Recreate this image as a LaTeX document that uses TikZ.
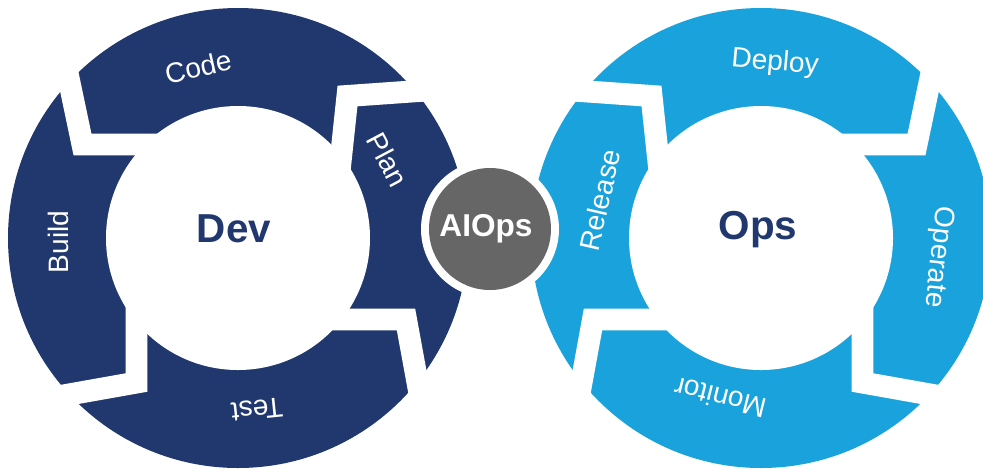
\documentclass[tikz,border=0pt]{standalone}
\usepackage{fontspec}
\setmainfont{Liberation Sans}
\definecolor{devblue}{HTML}{21386E}
\definecolor{opsblue}{HTML}{19A2DB}
\definecolor{aigray}{HTML}{666666}

\begin{document}
\begin{tikzpicture}[x=0.02cm, y=0.02cm,
        cut/.style={draw=white, line width=12.5pt, line join=miter},
        lbl/.style={text=white, font=\fontsize{16}{19}\selectfont},
        hub/.style={text=devblue, font=\fontsize{23}{28}\selectfont\bfseries}]%
        \useasboundingbox (-238,-230) rectangle (745,238);
        % Dev ring
        \fill[devblue] (0,0) circle (230);
        \draw[cut] (-176,191) -- (-155.5,93.5) -- (-60,93.5);
        \draw[cut] (209,149) -- (109.5,142) -- (101,62);
        \draw[cut] (186,-180) -- (168,-81.5) -- (68,-81.5);
        \draw[cut] (-200,-162) -- (-101.5,-144.5) -- (-101.5,-60);
        \fill[white] (0,0) circle (132);
        % Ops ring (mirror of Dev ring)
        \begin{scope}[shift={(523,0)}, xscale=-1]
        \fill[opsblue] (0,0) circle (230);
        \draw[cut] (-176,191) -- (-155.5,93.5) -- (-60,93.5);
        \draw[cut] (209,149) -- (109.5,142) -- (101,62);
        \draw[cut] (186,-180) -- (168,-81.5) -- (68,-81.5);
        \draw[cut] (-200,-162) -- (-101.5,-144.5) -- (-101.5,-60);
        \fill[white] (0,0) circle (132);
        \end{scope}
        % AIOps hub
        \fill[white] (252,9) circle (69);
        \fill[aigray] (252,9) circle (61);

        \node[lbl, rotate=13] (code) at (-40,171) {Code};
        \node[lbl, rotate=-62] (plan) at (150,78) {Plan};
        \node[lbl, rotate=90] (build) at (-180,-4) {Build};
        \node[lbl, rotate=186] (test) at (19,-172) {Test};
        \node[lbl, rotate=-5] (deploy) at (537,175) {Deploy};
        \node[lbl, rotate=-96] (operate) at (700,-19) {Operate};
        \node[lbl, rotate=166] (monitor) at (482,-160) {Monitor};
        \node[lbl, rotate=77] (release) at (362,38) {Release};

        \node[hub, anchor=base] (dev) at (-4,-4) {Dev};
        \node[hub, anchor=base] (ops) at (520,-1) {Ops};
        \node[hub, text=white, font=\fontsize{18}{22}\selectfont\bfseries, anchor=base] (aiops) at (248,2) {AIOps};
    \end{tikzpicture}
\end{document}
